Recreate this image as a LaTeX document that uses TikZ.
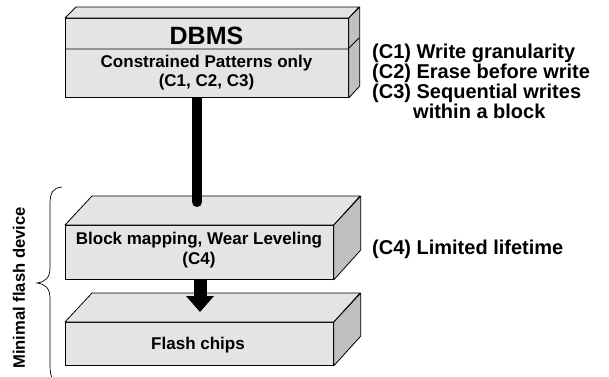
\documentclass[tikz,border=0pt]{standalone}
\usepackage{fontspec}
\setmainfont{Liberation Sans}
\usetikzlibrary{arrows.meta}
\definecolor{frontgray}{HTML}{E4E4E4}
\definecolor{sidegray}{HTML}{C0C0C0}
\tikzset{
  front/.style={draw=black, line width=0.8pt, fill=frontgray, inner sep=0pt, anchor=north west},
  topface/.style={draw=black, line width=0.8pt, fill=frontgray, line join=round},
  sideface/.style={draw=black, line width=0.8pt, fill=sidegray, line join=round},
  lbl/.style={font=\bfseries, align=center, inner sep=0pt},
  note/.style={font=\bfseries\fontsize{20}{20}\selectfont, align=left, anchor=north west, inner sep=0pt},
  thickline/.style={line width=10pt, line cap=round},
  bigarrow/.style={line width=13pt, -{Triangle[width=27pt,length=16pt]}},
}
\begin{document}
\begin{tikzpicture}[x=1pt,y=-1pt]
\useasboundingbox (0,0) rectangle (609,376);
% middle box
\node[front, minimum width=268pt, minimum height=54pt] (map) at (65,225) {};
\draw[topface] (map.north west) -- ++(27,-29) -- ++(268,0) -- (map.north east) -- cycle;
\draw[sideface] (map.north east) -- ++(27,-29) -- ++(0,54) -- (map.south east) -- cycle;
% bottom box
\node[front, minimum width=268pt, minimum height=43pt] (chips) at (65,322) {};
\draw[topface] (chips.north west) -- ++(27,-29) -- ++(268,0) -- (chips.north east) -- cycle;
\draw[sideface] (chips.north east) -- ++(27,-29) -- ++(0,43) -- (chips.south east) -- cycle;
% connector DBMS -> mapping
\coordinate (linestart) at (197,90);
\coordinate (lineend) at (197,202);
\draw[thickline] (linestart) -- (lineend);
% DBMS box
\node[front, minimum width=283pt, minimum height=79pt] (dbms) at (65,18) {};
\draw[topface] (dbms.north west) -- ++(11,-11) -- ++(283,0) -- (dbms.north east) -- cycle;
\draw[sideface] (dbms.north east) -- ++(11,-11) -- ++(0,79) -- (dbms.south east) -- cycle;
\coordinate (divl) at (65,49);
\coordinate (divr) at (348,49);
\draw[line width=0.8pt] (divl) -- (divr) -- ++(11,-11);
% texts in boxes
\node[lbl, font=\bfseries\fontsize{25}{28}\selectfont] (dbmst) at (206.5,35.5) {DBMS};
\node[lbl, font=\bfseries\fontsize{17}{19}\selectfont] (cons) at (206.5,72.5) {Constrained Patterns only\\(C1, C2, C3)};
\node[lbl, font=\bfseries\fontsize{17}{20}\selectfont] (mapt) at (199,250) {Block mapping, Wear Leveling\\(C4)};
\node[lbl, font=\bfseries\fontsize{17}{20}\selectfont] (chipst) at (198,345) {Flash chips};
% arrow mapping -> chips
\coordinate (arrtip) at (200,312);
\draw[bigarrow] (map.south -| arrtip) -- (arrtip);
% notes
\node[note] (c1) at (372,44) {(C1) Write granularity\\(C2) Erase before write\\(C3) Sequential writes\\\hspace*{41pt}within a block};
\node[note] (c4) at (372,240) {(C4) Limited lifetime};
% brace
\draw[line width=0.7pt] (62,187) .. controls (53,188) and (50,192) .. (50,205)
  -- (50,268) .. controls (50,278) and (45,282) .. (37,283)
  .. controls (45,284) and (50,288) .. (50,298)
  -- (50,365) .. controls (50,378) and (53,382) .. (62,383);
\node[lbl, font=\bfseries\fontsize{16.6}{18}\selectfont, rotate=90] (mfd) at (19,288) {Minimal flash device};
\end{tikzpicture}
\end{document}
